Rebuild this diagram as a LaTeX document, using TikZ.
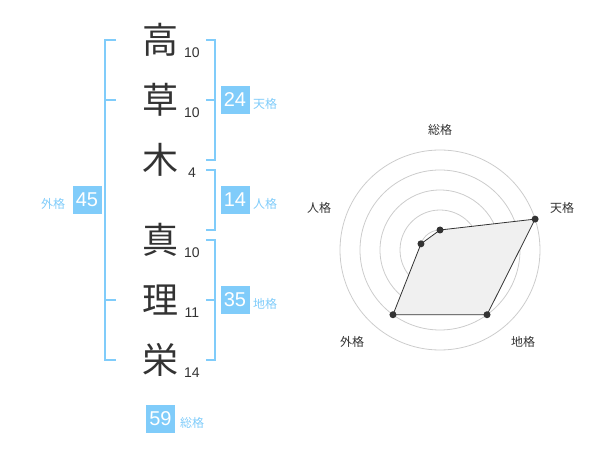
\documentclass[tikz,border=0pt]{standalone}
\usepackage{fontspec}
\setmainfont{Liberation Sans}
\newfontfamily\jpfont{Noto Sans CJK JP}
\usetikzlibrary{positioning}
\definecolor{kakublue}{RGB}{128,204,250}
\definecolor{ink}{RGB}{51,51,51}
\tikzstyle{kanji} = [text=ink, font=\jpfont\fontsize{36}{36}\selectfont, inner sep=0pt]
\tikzstyle{strokes} = [text=ink, font=\fontsize{14}{14}\selectfont, inner sep=0pt]
\tikzstyle{kakubox} = [rectangle, fill=kakublue, text=white, minimum width=29pt, minimum height=28pt, inner sep=0pt, font=\fontsize{20}{20}\selectfont]
\tikzstyle{kakulabel} = [text=kakublue, font=\jpfont\fontsize{12}{12}\selectfont, inner sep=0pt]
\tikzstyle{axislabel} = [text=ink, font=\jpfont\fontsize{12}{12}\selectfont, inner sep=0pt]
\tikzstyle{bracket} = [draw=kakublue, line width=2pt]
\tikzstyle{ring} = [draw=black!20, line width=0.8pt]

\begin{document}
\begin{tikzpicture}[x=1pt, y=1pt, yscale=-1]
\useasboundingbox (0,0) rectangle (600,470);

% name column
\node at (160, 40) (k1) [kanji] {高};
\node at (160, 100) (k2) [kanji] {草};
\node at (160, 160) (k3) [kanji] {木};
\node at (160, 240) (k4) [kanji] {真};
\node at (160, 300) (k5) [kanji] {理};
\node at (160, 360) (k6) [kanji] {栄};

\node at (192, 53) (n1) [strokes] {10};
\node at (192, 113) (n2) [strokes] {10};
\node at (192, 173) (n3) [strokes] {4};
\node at (192, 253) (n4) [strokes] {10};
\node at (192, 313) (n5) [strokes] {11};
\node at (192, 373) (n6) [strokes] {14};

% brackets
\draw [bracket] (116, 40) -- (105, 40) -- (105, 360) -- (116, 360);
\draw [bracket] (105, 100) -- (116, 100);
\draw [bracket] (105, 300) -- (116, 300);
\draw [bracket] (206, 40) -- (215, 40) -- (215, 160) -- (206, 160);
\draw [bracket] (206, 100) -- (215, 100);
\draw [bracket] (206, 170) -- (215, 170) -- (215, 230) -- (206, 230);
\draw [bracket] (206, 240) -- (215, 240) -- (215, 360) -- (206, 360);
\draw [bracket] (206, 300) -- (215, 300);

% totals
\node at (235, 100) (ten) [kakubox] {24};
\node at (235, 200) (jin) [kakubox] {14};
\node at (235, 300) (chi) [kakubox] {35};
\node at (87, 200) (gai) [kakubox] {45};
\node at (160.5, 419) (sou) [kakubox] {59};

\node at (265, 104) (tenlabel) [kakulabel] {天格};
\node at (265, 204) (jinlabel) [kakulabel] {人格};
\node at (265, 304) (chilabel) [kakulabel] {地格};
\node at (53, 204) (gailabel) [kakulabel] {外格};
\node at (192, 423) (soulabel) [kakulabel] {総格};

% radar chart
\coordinate (c) at (440, 250);
\foreach \r in {20, 40, 60, 80, 100}
  \draw [ring] (c) circle [radius=\r pt];
\fill [black!20] (c) circle [radius=3pt];

\path (c) ++(-90:20) coordinate (psou);
\path (c) ++(-18:100) coordinate (pten);
\path (c) ++(54:80) coordinate (pchi);
\path (c) ++(126:80) coordinate (pgai);
\path (c) ++(198:20) coordinate (pjin);

\draw [fill=black!6, draw=ink, line width=0.8pt] (psou) -- (pten) -- (pchi) -- (pgai) -- (pjin) -- cycle;
\foreach \p in {psou, pten, pchi, pgai, pjin}
  \fill [ink] (\p) circle [radius=3.5pt];

\node at (440, 130) (axsou) [axislabel] {総格};
\node at (562, 208) (axten) [axislabel] {天格};
\node at (523, 342) (axchi) [axislabel] {地格};
\node at (352, 342) (axgai) [axislabel] {外格};
\node at (319, 208) (axjin) [axislabel] {人格};

\end{tikzpicture}
\end{document}
